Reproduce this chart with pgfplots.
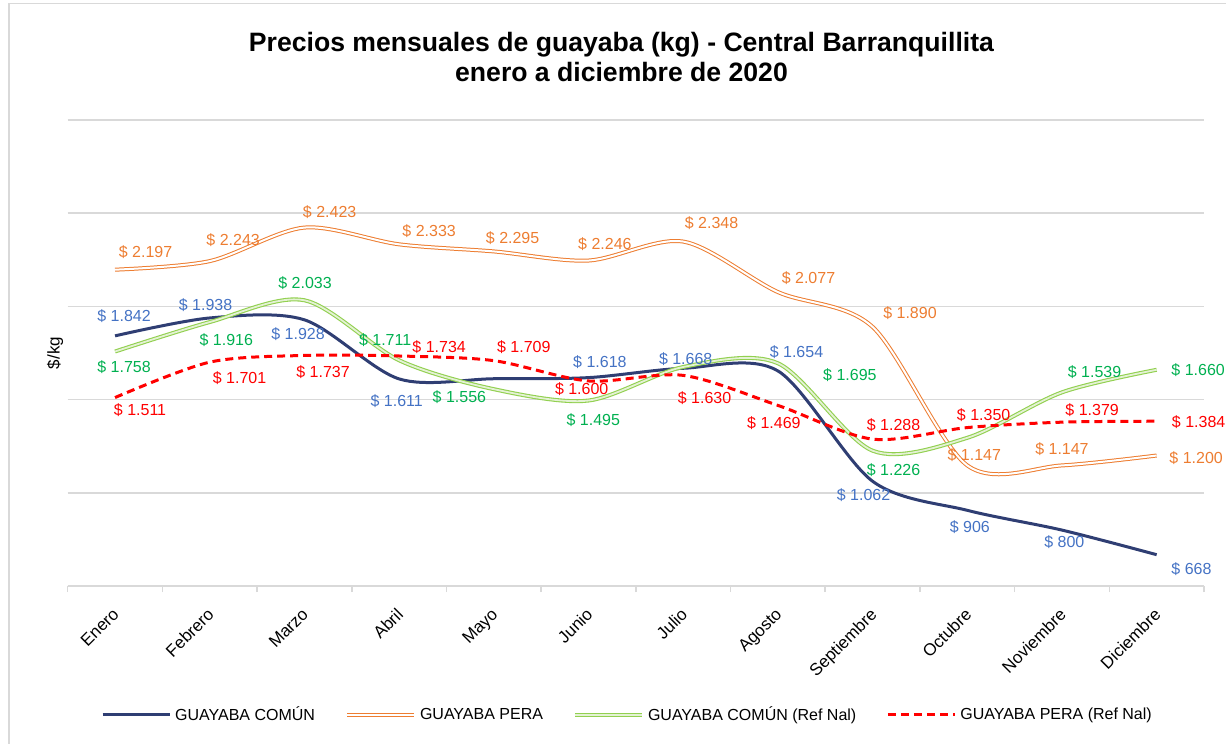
\documentclass[border=0pt]{standalone}
\usepackage{fontspec}
\setmainfont{Liberation Sans}
\usepackage{pgfplots}
\pgfplotsset{compat=1.18}
\definecolor{navy}{HTML}{2F3E73}
\definecolor{pera}{HTML}{ED7D31}
\definecolor{verde}{HTML}{92D050}
\definecolor{verdeclaro}{HTML}{E4F2D4}
\definecolor{lblblue}{HTML}{4472C4}
\definecolor{lblgreen}{HTML}{00B050}
\definecolor{lblred}{HTML}{FF0000}
\definecolor{gridc}{HTML}{D9D9D9}
\pgfplotsset{lab/.style={
  nodes near coords={\pgfplotspointmeta},
  point meta=explicit symbolic,
  visualization depends on={\thisrow{dx}\as\labdx},
  visualization depends on={\thisrow{dy}\as\labdy},
  nodes near coords style={anchor=center, xshift=\labdx pt, yshift=\labdy pt,
    font=\fontsize{8}{9.6}\selectfont, text=#1, inner sep=0pt},
}}
\begin{document}
\begin{tikzpicture}
\useasboundingbox (0,0) rectangle (613pt,-372pt);
\draw[gridc, line width=0.75pt] (4.5pt,-372pt) -- (4.5pt,-1.75pt) -- (613pt,-1.75pt);
\node[font=\bfseries\fontsize{13.3}{15}\selectfont, align=center] at (310.75pt,-28.5pt)
  {Precios mensuales de guayaba (kg) - Central Barranquillita\\enero a diciembre de 2020};
\begin{axis}[
  at={(33.85pt,-293pt)}, anchor=south west,
  scale only axis, width=568.15pt, height=233pt,
  xmin=-0.5, xmax=11.5, ymin=500, ymax=3000,
  xtick={0,...,11},
  xticklabels={Enero,Febrero,Marzo,Abril,Mayo,Junio,Julio,Agosto,Septiembre,Octubre,Noviembre,Diciembre},
  minor xtick={-0.5,0.5,...,11.5},
  ytick={500,1000,...,3000}, yticklabels={},
  ymajorgrids, major grid style={gridc, line width=0.75pt},
  axis x line*=bottom, axis y line*=left,
  x axis line style={gridc, line width=0.75pt, -},
  y axis line style={draw=none},
  major tick length=0pt, minor tick length=3pt, tick align=outside,
  minor tick style={gridc, line width=0.75pt},
  xticklabel style={rotate=45, anchor=north east, font=\fontsize{8.5}{10}\selectfont, inner sep=1pt, xshift=-7.55pt, yshift=-5.05pt},
  ylabel={\$/kg}, ylabel style={at={(axis description cs:-0.0112,0.5)}, anchor=center, font=\fontsize{8.5}{10}\selectfont},
  legend style={at={(0.4935,-0.2768)}, anchor=center, draw=none, legend columns=4,
    font=\fontsize{8}{10}\selectfont,
    /tikz/every even column/.append style={column sep=13pt}},
  legend image code/.code={\draw[#1] (0pt,0pt) -- (33.5pt,0pt);},
  clip=false,
]
\addplot[navy, line width=1.5pt, smooth, lab=lblblue] table[x=x, y=y, meta=lab, col sep=comma, row sep=\\] {
x,y,dx,dy,lab\\
0,1842,4.5,10,\$~1.842\\
1,1938,-2.1,6.5,\$~1.938\\
2,1928,-3.2,-7.3,\$~1.928\\
3,1611,-1.2,-11,\$~1.611\\
4,1612,0,0,{}\\
5,1618,5.7,7.6,\$~1.618\\
6,1668,1.25,4.5,\$~1.668\\
7,1654,9.3,9.3,\$~1.654\\
8,1062,-4.5,-7,\$~1.062\\
9,906,1.3,-8.3,\$~906\\
10,800,1.2,-6,\$~800\\
11,668,17.4,-7,\$~668\\
};
\addlegendentry{GUAYABA COMÚN}
\addplot[draw=pera, double=white, line width=0.5pt, double distance=1pt, smooth, lab=pera] table[x=x, y=y, meta=lab, col sep=comma, row sep=\\] {
x,y,dx,dy,lab\\
0,2197,15.25,9,\$~2.197\\
1,2243,11.7,10.5,\$~2.243\\
2,2423,12.6,7.9,\$~2.423\\
3,2333,15,6.8,\$~2.333\\
4,2295,9.4,6.5,\$~2.295\\
5,2246,8.2,8.2,\$~2.246\\
6,2348,14.2,9.4,\$~2.348\\
7,2077,15.3,6.8,\$~2.077\\
8,1890,18.7,6.9,\$~1.890\\
9,1147,3.5,5.2,\$~1.147\\
10,1147,0,8,\$~1.147\\
11,1200,19.75,-1.4,\$~1.200\\
};
\addlegendentry{GUAYABA PERA}
\addplot[draw=verde, double=verdeclaro, line width=0.55pt, double distance=0.9pt, smooth, lab=lblgreen] table[x=x, y=y, meta=lab, col sep=comma, row sep=\\] {
x,y,dx,dy,lab\\
0,1758,4.5,-7.6,\$~1.758\\
1,1916,8.3,-9,\$~1.916\\
2,2033,0.3,8.75,\$~2.033\\
3,1711,-7,10,\$~1.711\\
4,1556,-17.2,-4.2,\$~1.556\\
5,1495,2.4,-9.75,\$~1.495\\
6,1675,0,0,{}\\
7,1695,36,-5.8,\$~1.695\\
8,1226,10.5,-9.7,\$~1.226\\
9,1295,0,0,{}\\
10,1539,16.3,10,\$~1.539\\
11,1660,20.75,0,\$~1.660\\
};
\addlegendentry{GUAYABA COMÚN (Ref Nal)}
\addplot[lblred, line width=1.5pt, dash pattern=on 4pt off 2.5pt, smooth, lab=lblred] table[x=x, y=y, meta=lab, col sep=comma, row sep=\\] {
x,y,dx,dy,lab\\
0,1511,12.5,-6.5,\$~1.511\\
1,1701,14.9,-8,\$~1.701\\
2,1737,9.3,-8.6,\$~1.737\\
3,1734,20,4.3,\$~1.734\\
4,1709,15,6.6,\$~1.709\\
5,1600,-3.4,-4.2,\$~1.600\\
6,1630,10.7,-11.4,\$~1.630\\
7,1469,-2,-9,\$~1.469\\
8,1288,10.5,7.2,\$~1.288\\
9,1350,8.2,6,\$~1.350\\
10,1379,15.1,6,\$~1.379\\
11,1384,21,-0.7,\$~1.384\\
};
\addlegendentry{GUAYABA PERA (Ref Nal)}
\end{axis}
\end{tikzpicture}
\end{document}
